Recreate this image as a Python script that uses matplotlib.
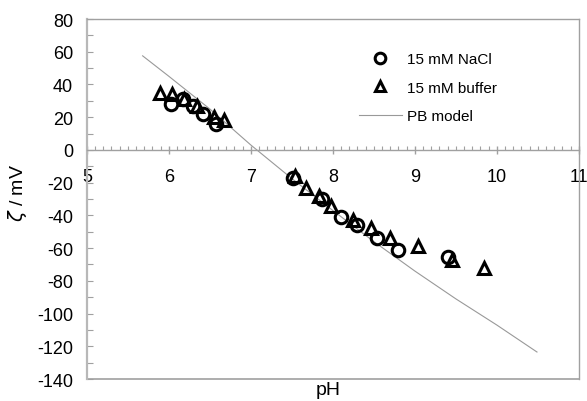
import numpy as np
import matplotlib
matplotlib.use("Agg")
import matplotlib.pyplot as plt
from matplotlib.ticker import MultipleLocator

plt.rcParams['font.family'] = ['Liberation Sans', 'DejaVu Sans']
plt.rcParams['mathtext.fontset'] = 'dejavusans'
plt.rcParams['axes.unicode_minus'] = False

# data
ph_nacl = [6.03, 6.17, 6.29, 6.42, 6.57, 7.51, 7.87, 8.10, 8.30, 8.54, 8.80, 9.40]
zeta_nacl = [28, 31, 27, 22, 16, -17, -30, -41, -46, -54, -61, -65.5]

ph_buffer = [5.89, 6.04, 6.19, 6.34, 6.55, 6.67, 7.54, 7.67, 7.83, 7.98, 8.25, 8.46, 8.70, 9.04, 9.45, 9.84]
zeta_buffer = [35, 34, 31, 27, 20, 18, -16, -23, -28, -34, -43, -48, -54, -58.5, -67, -72]

ph_model = [5.68, 6.0, 6.5, 7.0, 7.5, 8.0, 8.5, 9.0, 9.5, 10.0, 10.49]
zeta_model = [57.5, 45, 25, 3, -17.5, -37, -56, -74, -91, -107, -123.5]

fig = plt.figure(figsize=(5.87, 4.02), dpi=100)
ax = fig.add_axes([0.148, 0.0547, 0.838, 0.8955])

frame = '#a0a0a0'
ax.plot(ph_model, zeta_model, '-', color='#999999', lw=0.8, label='PB model', zorder=2)
ax.plot(ph_nacl, zeta_nacl, 'o', ms=9, mfc='none', mec='black', mew=2.2,
        label='15 mM NaCl', zorder=3)
ax.plot(ph_buffer, zeta_buffer, '^', ms=9, mfc='none', mec='black', mew=2.2,
        label='15 mM buffer', zorder=3)

ax.set_xlim(5, 11)
ax.set_ylim(-140, 80)

# x axis sits on zeta = 0, box closed with a line at the bottom
ax.spines['bottom'].set_position(('data', 0))
for s in ax.spines.values():
    s.set_color(frame)
    s.set_linewidth(1.0)
ax.spines['left'].set_color('#b8b8b8')
ax.spines['left'].set_linewidth(1.6)
ax.plot([0, 1], [0, 0], transform=ax.transAxes, color=frame, lw=1.2, clip_on=False)

ax.xaxis.set_major_locator(MultipleLocator(1))
ax.xaxis.set_minor_locator(MultipleLocator(0.1))
ax.yaxis.set_major_locator(MultipleLocator(20))
ax.yaxis.set_minor_locator(MultipleLocator(10))
ax.tick_params(axis='x', which='major', direction='inout', length=6, width=1,
               color=frame, pad=10, labelsize=13)
ax.tick_params(axis='x', which='minor', direction='in', length=3, width=0.8, color=frame)
ax.tick_params(axis='y', which='both', direction='in', length=4, width=0.8,
               color=frame, pad=10, labelsize=13)

ax.set_xlabel('pH', fontsize=14)
ax.xaxis.set_label_coords(0.49, -0.005, transform=ax.transAxes)
ax.xaxis.label.set_va('top')
ax.set_ylabel(r'$\zeta$ / mV', fontsize=14)
ax.yaxis.set_label_coords(-0.142, 0.52)
ax.yaxis.label.set_va('center')

handles, labels = ax.get_legend_handles_labels()
order = [1, 2, 0]
ax.legend([handles[i] for i in order], [labels[i] for i in order],
          loc='upper left', bbox_to_anchor=(0.553, 0.908), frameon=False,
          borderaxespad=0, borderpad=0, handletextpad=0.35,
          fontsize=11, handlelength=2.8, labelspacing=0.95, markerscale=0.85)

fig.savefig('out.png', dpi=100)
